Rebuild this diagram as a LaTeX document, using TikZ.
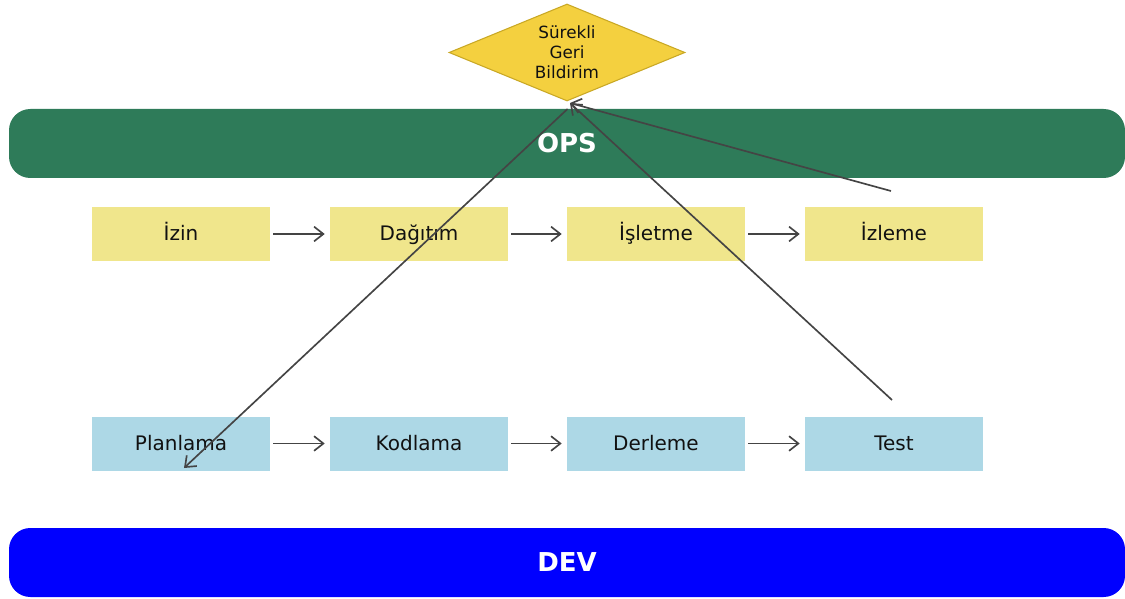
\documentclass[tikz,border=0pt]{standalone}
\usepackage{fontspec}
\setmainfont{DejaVu Sans}
\usetikzlibrary{shapes.geometric,arrows.meta}
\definecolor{opsgreen}{RGB}{46,123,89}
\definecolor{devblue}{RGB}{0,0,255}
\definecolor{opsbox}{HTML}{F0E68C}
\definecolor{devbox}{HTML}{ADD8E6}
\definecolor{fbfill}{HTML}{F4D03F}
\definecolor{fbdraw}{HTML}{C9A825}
\definecolor{arrowcol}{HTML}{444444}
\definecolor{txt}{HTML}{111111}
\tikzset{
  bar/.style={rounded corners=16pt, minimum width=837pt, minimum height=51.75pt, inner sep=0pt, text height=14pt, text depth=0pt, text=white, font=\fontsize{19.5}{22}\selectfont\bfseries},
  stagebox/.style={minimum width=133.5pt, minimum height=40.5pt, inner sep=0pt, text height=11pt, text depth=1.2pt, text=txt, font=\fontsize{15}{18}\selectfont},
  opsstage/.style={stagebox, fill=opsbox},
  devstage/.style={stagebox, fill=devbox},
  fbshape/.style={diamond, aspect=2.43, minimum width=177pt, minimum height=72.75pt, inner sep=0pt, fill=fbfill, draw=fbdraw, line width=0.8pt, text=txt, align=center, font=\fontsize{12.6}{15}\selectfont},
  flow/.style={draw=arrowcol, line width=1.25pt, -{Straight Barb[length=7pt,width=11pt,line width=1.25pt]}},
  stepflow/.style={flow, shorten <=2.25pt, shorten >=3.75pt},
}
\begin{document}
\begin{tikzpicture}[x=0.75pt,y=-0.75pt]
\useasboundingbox (0,0) rectangle (1125,599);
\node[bar, fill=opsgreen] (ops) at (567,143.5) {OPS};
\node[bar, fill=devblue] (dev) at (567,562.5) {DEV};
\node[fbshape] (fb) at (567,52.5) {Sürekli\\Geri\\Bildirim};

\node[opsstage] (izin) at (181,234) {İzin};
\node[opsstage] (dagitim) at (419,234) {Dağıtım};
\node[opsstage] (isletme) at (656,234) {İşletme};
\node[opsstage] (izleme) at (894,234) {İzleme};

\node[devstage] (plan) at (181,443.5) {Planlama};
\node[devstage] (kod) at (419,443.5) {Kodlama};
\node[devstage] (derle) at (656,443.5) {Derleme};
\node[devstage] (test) at (894,443.5) {Test};

\draw[stepflow] (izin) -- (dagitim);
\draw[stepflow] (dagitim) -- (isletme);
\draw[stepflow] (isletme) -- (izleme);
\draw[stepflow] (plan) -- (kod);
\draw[stepflow] (kod) -- (derle);
\draw[stepflow] (derle) -- (test);

\coordinate (testsrc) at (892,400);
\coordinate (izlsrc) at (891,191);
\coordinate (fbtip) at (570,103);
\coordinate (fbsrc) at (567.5,109);
\coordinate (plantip) at (184,468);
\draw[flow] (testsrc) -- (fbtip);
\draw[flow] (izlsrc) -- (fbtip);
\draw[flow] (fbsrc) -- (plantip);
\end{tikzpicture}
\end{document}
